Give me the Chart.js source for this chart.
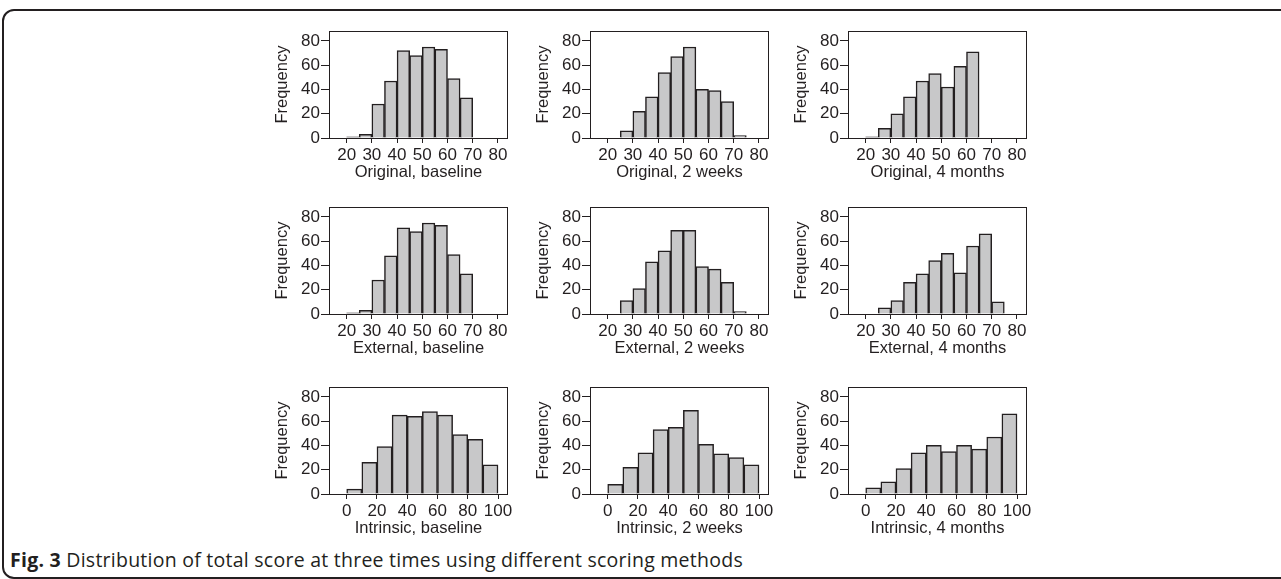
<!DOCTYPE html>
<html>
<head>
<meta charset="utf-8">
<script src="https://cdn.jsdelivr.net/npm/chart.js@4.4.0/dist/chart.umd.min.js"></script>
<style>
  body { margin: 0; background: #fff; width: 1281px; height: 579px; overflow: hidden; position: relative; }
  #frame { position: absolute; left: 2px; top: 9px; width: 1300px; height: 566px; border: 2px solid #231f20; border-radius: 12px; }
  canvas { position: absolute; }
  #caption { position: absolute; left: 10px; top: 546px; font-family: "Open Sans", sans-serif; font-size: 19.5px; letter-spacing: 0.25px; color: #231f20; white-space: nowrap; }
  #caption b { font-weight: 700; }
</style>
</head>
<body>
<div id="frame"></div>
<canvas id="p1" width="250" height="165" style="left:270px;top:20px"></canvas>
<canvas id="p2" width="250" height="165" style="left:531px;top:20px"></canvas>
<canvas id="p3" width="250" height="165" style="left:789px;top:20px"></canvas>
<canvas id="p4" width="250" height="165" style="left:270px;top:196px"></canvas>
<canvas id="p5" width="250" height="165" style="left:531px;top:196px"></canvas>
<canvas id="p6" width="250" height="165" style="left:789px;top:196px"></canvas>
<canvas id="p7" width="250" height="165" style="left:270px;top:376px"></canvas>
<canvas id="p8" width="250" height="165" style="left:531px;top:376px"></canvas>
<canvas id="p9" width="250" height="165" style="left:789px;top:376px"></canvas>
<div id="caption"><b>Fig. 3</b> Distribution of total score at three times using different scoring methods</div>
<script>
    // bin starts (score bins are 5 wide, intrinsic bins 10 wide)
    const scoreBins = [20, 25, 30, 35, 40, 45, 50, 55, 60, 65, 70];
    const intrinsicBins = [0, 10, 20, 30, 40, 50, 60, 70, 80, 90];

    const scoreTicks = [20, 30, 40, 50, 60, 70, 80];
    const intrinsicTicks = [0, 20, 40, 60, 80, 100];
    const freqTicks = [0, 20, 40, 60, 80];

    const originalBaseline = [1, 3, 28, 47, 72, 68, 75, 73, 49, 33, 0];
    const original2Weeks = [0, 6, 22, 34, 54, 67, 75, 40, 39, 30, 2];
    const original4Months = [1, 8, 20, 34, 47, 53, 42, 59, 71, 0, 0];
    const externalBaseline = [1, 3, 28, 48, 71, 68, 75, 73, 49, 33, 0];
    const external2Weeks = [0, 11, 21, 43, 52, 69, 69, 39, 37, 26, 2];
    const external4Months = [0, 5, 11, 26, 33, 44, 50, 34, 56, 66, 10];
    const intrinsicBaseline = [4, 26, 39, 65, 64, 68, 65, 49, 45, 24];
    const intrinsic2Weeks = [8, 22, 34, 53, 55, 69, 41, 33, 30, 24];
    const intrinsic4Months = [5, 10, 21, 34, 40, 35, 40, 37, 47, 66];

    const ink = '#231f20';
    const tickFont = { family: '"Liberation Sans", Arial, sans-serif', size: 17 };
    const titleFont = { family: '"Liberation Sans", Arial, sans-serif', size: 16.5 };

    // plot region box (Stata style frame)
    const boxPlugin = {
        id: 'box',
        afterDatasetsDraw: function (chart) {
            let a = chart.chartArea, ctx = chart.ctx;
            ctx.save();
            ctx.strokeStyle = ink;
            ctx.lineWidth = 1;
            ctx.strokeRect(Math.round(a.left) + 0.5, Math.round(a.top) + 0.5,
                Math.round(a.right - a.left) - 1, Math.round(a.bottom - a.top));
            ctx.restore();
        }
    };

    function DrawHistogram(id, title, bins, binWidth, counts, xTicks, xMin, xMax) {
        new Chart(document.getElementById(id), {
            type: 'bar',
            data: {
                datasets: [{
                    data: bins.map(function (b, i) { return { x: b + binWidth / 2, y: counts[i] }; }),
                    backgroundColor: '#c8c8c9',
                    borderColor: ink,
                    borderWidth: 1.5,
                    borderSkipped: 'start',
                    barPercentage: 1,
                    categoryPercentage: 1,
                }]
            },
            options: {
                responsive: false,
                animation: false,
                devicePixelRatio: 1,
                layout: { padding: { left: 0, right: 12, top: 8, bottom: 0 } },
                plugins: { legend: { display: false }, tooltip: { enabled: false } },
                scales: {
                    x: {
                        type: 'linear', min: xMin, max: xMax, offset: false,
                        afterBuildTicks: function (s) { s.ticks = xTicks.map(function (v) { return { value: v }; }); },
                        afterFit: function (s) { s.height = 47; },
                        grid: { drawOnChartArea: false, drawTicks: true, tickLength: 5, color: ink, offset: false },
                        border: { display: false },
                        ticks: { font: tickFont, color: ink, padding: 2, maxRotation: 0, autoSkip: false },
                        title: { display: true, text: title, font: titleFont, color: ink, padding: { top: 0, bottom: 3 } }
                    },
                    y: {
                        min: 0, max: 88,
                        afterBuildTicks: function (s) { s.ticks = freqTicks.map(function (v) { return { value: v }; }); },
                        afterFit: function (s) { s.width = 59; },
                        grid: { drawOnChartArea: false, drawTicks: true, tickLength: 8, color: ink },
                        border: { display: false },
                        ticks: { font: tickFont, color: ink, padding: 1 },
                        title: { display: true, text: 'Frequency', font: titleFont, color: ink, padding: { top: 3, bottom: 0 } }
                    }
                }
            },
            plugins: [boxPlugin]
        });
    }

    window.onload = function () {
        DrawHistogram('p1', 'Original, baseline', scoreBins, 5, originalBaseline, scoreTicks, 13, 84);
        DrawHistogram('p2', 'Original, 2 weeks', scoreBins, 5, original2Weeks, scoreTicks, 13, 84);
        DrawHistogram('p3', 'Original, 4 months', scoreBins, 5, original4Months, scoreTicks, 13, 84);
        DrawHistogram('p4', 'External, baseline', scoreBins, 5, externalBaseline, scoreTicks, 13, 84);
        DrawHistogram('p5', 'External, 2 weeks', scoreBins, 5, external2Weeks, scoreTicks, 13, 84);
        DrawHistogram('p6', 'External, 4 months', scoreBins, 5, external4Months, scoreTicks, 13, 84);
        DrawHistogram('p7', 'Intrinsic, baseline', intrinsicBins, 10, intrinsicBaseline, intrinsicTicks, -11.7, 106.6);
        DrawHistogram('p8', 'Intrinsic, 2 weeks', intrinsicBins, 10, intrinsic2Weeks, intrinsicTicks, -11.7, 106.6);
        DrawHistogram('p9', 'Intrinsic, 4 months', intrinsicBins, 10, intrinsic4Months, intrinsicTicks, -11.7, 106.6);
    }
</script>
</body>
</html>
